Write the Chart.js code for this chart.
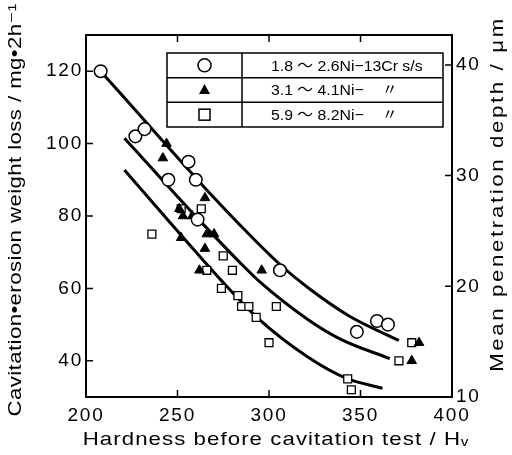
<!DOCTYPE html>
<html>
<head>
<meta charset="utf-8">
<script src="https://cdn.jsdelivr.net/npm/chart.js"></script>
<style>
  body { margin: 0; background: #fff; }
  #wrap { width: 512px; height: 455px; }
</style>
</head>
<body>
<div id="wrap"><canvas id="chart" width="512" height="455"></canvas></div>
<script>
// 축 눈금
const xTicks = [200, 250, 300, 350, 400];
const lossTicks = [40, 60, 80, 100, 120];
const depthTicks = [10, 20, 30, 40];

// 축 제목, 범례 글자
const xTitle = 'Hardness before cavitation test / Hᵥ';
const lossTitle = 'Cavitation•erosion weight loss / mg•2h⁻¹';
const depthTitle = 'Mean penetration depth / μm';
const seriesLabels = ['1.8 〜 2.6Ni−13Cr s/s', '3.1 〜 4.1Ni−', '5.9 〜 8.2Ni−'];

const circleHv   = [208, 227, 232, 245, 256, 260, 261, 306, 348, 359, 365];
const circleLoss = [120, 102, 104, 90, 95, 90, 79, 65, 48, 51, 50];

const triHv   = [244, 242, 251, 253, 258, 265, 266, 270, 265, 252, 262, 296, 378, 382];
const triLoss = [100, 96, 82, 80, 80, 85, 75, 75, 71, 74, 65, 65, 40, 45];

const sqHv   = [236, 252, 263, 266, 275, 280, 274, 283, 285, 289, 293, 304, 300, 343, 345, 371, 378];
const sqLoss = [75, 82, 82, 65, 69, 65, 60, 58, 55, 55, 52, 55, 45, 35, 32, 40, 45];

// 손으로 그린 경향선 (그림에서 읽은 점)
const curve1Hv   = [208, 220, 240, 264, 284, 306, 321, 344, 371];
const curve1Loss = [120, 113.2, 101.8, 88.3, 77.6, 66.6, 60.3, 52.3, 45.6];
const curve2Hv   = [221, 242, 265, 284, 295, 321, 339, 366];
const curve2Loss = [101.5, 89.8, 77.2, 67.2, 61.8, 51.5, 46, 40.6];
const curve3Hv   = [221, 242, 264, 273, 294, 321, 342, 362];
const curve3Loss = [92.7, 80.5, 67.8, 62.7, 51.7, 41.1, 35.2, 32.4];

const pts = (xs, ys) => xs.map((x, i) => ({ x: x, y: ys[i] }));

const FONT = '"Liberation Sans", Arial, "DejaVu Sans", sans-serif';

function curveSet(xs, ys) {
    return {
        data: pts(xs, ys),
        showLine: true,
        borderColor: '#000',
        borderWidth: 3,
        pointRadius: 0,
        cubicInterpolationMode: 'monotone',
        fill: false,
        order: 2
    };
}

// 원본 글꼴이 옆으로 넓어서 가로로 늘려 그림
function drawWide(ctx, text, x, y, rot, sx, ls) {
    ctx.save();
    ctx.translate(x, y);
    ctx.rotate(rot);
    ctx.scale(sx, 1);
    ctx.letterSpacing = ls + 'px';
    ctx.fillText(text, 0, 0);
    ctx.restore();
}

// 눈금 글자 자간
const spacingPlugin = {
    id: 'spacing',
    beforeDraw(chart) { chart.ctx.letterSpacing = '1.8px'; }
};

// 테두리 + 안쪽 눈금 + 축 제목 + 범례 표
const framePlugin = {
    id: 'frame',
    afterDraw(chart) {
        const ctx = chart.ctx;
        const a = chart.chartArea;
        const xs = chart.scales.x, ys = chart.scales.y, rs = chart.scales.y2;
        ctx.save();
        ctx.strokeStyle = '#000';
        ctx.lineWidth = 2;
        ctx.strokeRect(a.left, a.top, a.right - a.left, a.bottom - a.top);

        ctx.lineWidth = 1.5;
        ctx.beginPath();
        xTicks.slice(1, -1).forEach(v => {
            const px = xs.getPixelForValue(v);
            ctx.moveTo(px, a.bottom); ctx.lineTo(px, a.bottom - 7);
            ctx.moveTo(px, a.top); ctx.lineTo(px, a.top + 7);
        });
        lossTicks.forEach(v => {
            const py = ys.getPixelForValue(v);
            ctx.moveTo(a.left, py); ctx.lineTo(a.left + 7, py);
        });
        depthTicks.slice(1).forEach(v => {
            const py = rs.getPixelForValue(v);
            ctx.moveTo(a.right, py); ctx.lineTo(a.right - 7, py);
        });
        ctx.stroke();

        // 축 제목
        ctx.fillStyle = '#000';
        ctx.font = '18.5px ' + FONT;
        ctx.textAlign = 'center';
        ctx.textBaseline = 'middle';
        drawWide(ctx, xTitle, 276, 440, 0, 1.2, 0.9);
        drawWide(ctx, lossTitle, 16, 210, -Math.PI / 2, 1.2, 0.35);
        drawWide(ctx, depthTitle, 498, 194, -Math.PI / 2, 1.2, 2.2);

        // 범례 표
        const L = a.left + 81, T = a.top + 18, W = 276, H = 74, C = 75;
        const rh = H / 3;
        ctx.lineWidth = 1.5;
        ctx.fillStyle = '#fff';
        ctx.fillRect(L, T, W, H);
        ctx.strokeRect(L, T, W, H);
        ctx.beginPath();
        ctx.moveTo(L, T + rh); ctx.lineTo(L + W, T + rh);
        ctx.moveTo(L, T + 2 * rh); ctx.lineTo(L + W, T + 2 * rh);
        ctx.moveTo(L + C, T); ctx.lineTo(L + C, T + H);
        ctx.stroke();

        const mx = L + C / 2;
        let cy = T + rh / 2;
        ctx.beginPath();
        ctx.arc(mx, cy, 6.5, 0, Math.PI * 2);
        ctx.fillStyle = '#fff'; ctx.fill(); ctx.stroke();
        cy = T + rh * 1.5;
        ctx.beginPath();
        ctx.moveTo(mx, cy - 6); ctx.lineTo(mx + 5.5, cy + 4); ctx.lineTo(mx - 5.5, cy + 4);
        ctx.closePath();
        ctx.fillStyle = '#000'; ctx.fill();
        cy = T + rh * 2.5;
        ctx.fillStyle = '#fff';
        ctx.fillRect(mx - 5.5, cy - 5.5, 11, 11);
        ctx.strokeRect(mx - 5.5, cy - 5.5, 11, 11);

        ctx.fillStyle = '#000';
        ctx.font = '15.5px ' + FONT + ', "Noto Sans CJK JP"';
        ctx.textBaseline = 'middle';
        ctx.textAlign = 'left';
        seriesLabels.forEach((s, i) => {
            const ty = T + rh * (i + 0.5) + 1;
            drawWide(ctx, s, L + C + 29, ty, 0, 1.02, 0);
            if (i > 0) drawWide(ctx, '〃', L + C + 140, ty, 0, 1, 0);
        });
        ctx.restore();
    }
};

new Chart(document.getElementById('chart'), {
    type: 'scatter',
    data: {
        datasets: [
            {
                data: pts(circleHv, circleLoss),
                pointStyle: 'circle', pointRadius: 6.3, pointBorderWidth: 1.5,
                pointBackgroundColor: '#fff', pointBorderColor: '#000', order: 0
            },
            {
                data: pts(sqHv, sqLoss),
                pointStyle: 'rect', pointRadius: 5.6, pointBorderWidth: 1.3,
                pointBackgroundColor: '#fff', pointBorderColor: '#000', order: 1
            },
            {
                data: pts(triHv, triLoss),
                pointStyle: 'triangle', pointRadius: 5.5, pointBorderWidth: 1,
                pointBackgroundColor: '#000', pointBorderColor: '#000', order: 0
            },
            curveSet(curve1Hv, curve1Loss),
            curveSet(curve2Hv, curve2Loss),
            curveSet(curve3Hv, curve3Loss)
        ]
    },
    options: {
        responsive: false,
        animation: false,
        layout: { padding: { top: 35, left: 0, right: 0, bottom: 0 } },
        plugins: { legend: { display: false }, tooltip: { enabled: false } },
        scales: {
            x: {
                type: 'linear', min: 200, max: 400,
                afterBuildTicks: s => { s.ticks = xTicks.map(v => ({ value: v })); },
                afterFit: s => { s.height = 58; },
                grid: { display: false, drawTicks: false },
                border: { display: false },
                ticks: { padding: 7, color: '#000', font: { size: 19, family: FONT } }
            },
            y: {
                type: 'linear', position: 'left', min: 30, max: 130,
                afterBuildTicks: s => { s.ticks = lossTicks.map(v => ({ value: v })); },
                afterFit: s => { s.width = 86; },
                grid: { display: false, drawTicks: false },
                border: { display: false },
                ticks: { padding: 3, color: '#000', font: { size: 19, family: FONT } }
            },
            y2: {
                type: 'linear', position: 'right', min: 10, max: 42.7,
                afterBuildTicks: s => { s.ticks = depthTicks.map(v => ({ value: v })); },
                afterFit: s => { s.width = 60; },
                grid: { display: false, drawTicks: false },
                border: { display: false },
                ticks: { padding: 4, color: '#000', font: { size: 19, family: FONT } }
            }
        }
    },
    plugins: [spacingPlugin, framePlugin]
});
</script>
</body>
</html>
